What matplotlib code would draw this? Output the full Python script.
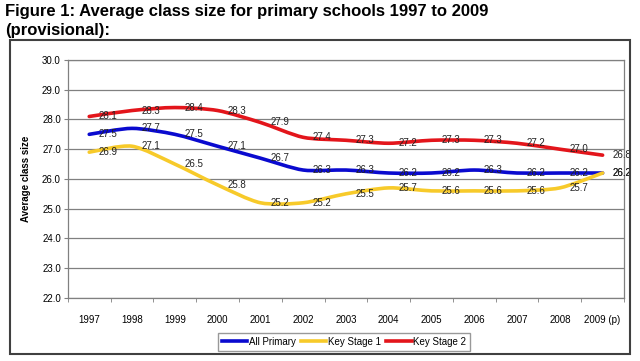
import numpy as np
import matplotlib
matplotlib.use("Agg")
import matplotlib.pyplot as plt
from matplotlib.path import Path
from matplotlib.patches import PathPatch, Rectangle
from matplotlib.lines import Line2D

plt.rcParams['font.family'] = ['Liberation Sans', 'DejaVu Sans']

years = ['1997', '1998', '1999', '2000', '2001', '2002', '2003',
         '2004', '2005', '2006', '2007', '2008', '2009 (p)']
all_primary = [27.5, 27.7, 27.5, 27.1, 26.7, 26.3, 26.3, 26.2, 26.2, 26.3, 26.2, 26.2, 26.2]
key_stage1 = [26.9, 27.1, 26.5, 25.8, 25.2, 25.2, 25.5, 25.7, 25.6, 25.6, 25.6, 25.7, 26.2]
key_stage2 = [28.1, 28.3, 28.4, 28.3, 27.9, 27.4, 27.3, 27.2, 27.3, 27.3, 27.2, 27.0, 26.8]

series = [('All Primary', all_primary, '#0A0ACF'),
          ('Key Stage 1', key_stage1, '#F7CA2A'),
          ('Key Stage 2', key_stage2, '#E3151B')]


def smooth_path(x, y, t=0.13):
    # excel-ish smoothed line: bezier through the points
    verts = [(x[0], y[0])]
    codes = [Path.MOVETO]
    n = len(x)
    for i in range(n - 1):
        x0, y0 = (x[i-1], y[i-1]) if i > 0 else (x[i], y[i])
        x3, y3 = (x[i+2], y[i+2]) if i < n - 2 else (x[i+1], y[i+1])
        c1 = (x[i] + (x[i+1] - x0) * t, y[i] + (y[i+1] - y0) * t)
        c2 = (x[i+1] - (x3 - x[i]) * t, y[i+1] - (y3 - y[i]) * t)
        verts += [c1, c2, (x[i+1], y[i+1])]
        codes += [Path.CURVE4] * 3
    return Path(verts, codes)


fig = plt.figure(figsize=(6.4, 3.61), dpi=100)
ax = fig.add_axes([0.106, 0.1745, 0.869, 0.6595])

# chart frame
fig.patches.append(Rectangle((10/640., 1 - 354/361.), 620/640., 314/361.,
                             transform=fig.transFigure, fill=False,
                             edgecolor='#404040', linewidth=1.5))

fig.text(0.008, 0.988, 'Figure 1: Average class size for primary schools 1997 to 2009\n(provisional):',
         va='top', ha='left', fontsize=12, fontweight='bold', linespacing=1.3)

x = np.arange(len(years))
for name, vals, col in series:
    ax.add_patch(PathPatch(smooth_path(x, vals), fill=False, edgecolor=col,
                           linewidth=2.6, capstyle='round', zorder=3))
    for xi, v in zip(x, vals):
        ax.annotate('%.1f' % v, (xi, v), xytext=(7, 0), textcoords='offset points',
                    va='center', ha='left', fontsize=7, color='#222222', zorder=4)

ax.set_xlim(-0.5, len(years) - 0.5)
ax.set_ylim(22, 30)
ax.set_yticks(np.arange(22, 30.1, 1))
ax.set_yticklabels(['%.1f' % v for v in np.arange(22, 30.1, 1)], fontsize=7)
ax.set_xticks(x)
ax.set_xticklabels(years, fontsize=7)
ax.set_xticks(np.arange(-0.5, len(years), 1), minor=True)
ax.tick_params(axis='x', which='major', length=0, pad=12)
ax.tick_params(axis='x', which='minor', length=3, color='#808080')
ax.tick_params(axis='y', length=3, color='#808080', pad=2)
ax.grid(axis='y', color='#808080', linewidth=0.9)
ax.set_axisbelow(True)
for s in ax.spines.values():
    s.set_color('#808080')
    s.set_linewidth(0.9)
ax.set_ylabel('Average class size', fontsize=7, fontweight='bold', labelpad=8)

handles = [Line2D([], [], color=c, linewidth=2.6) for _, _, c in series]
fig.legend(handles, [n for n, _, _ in series], loc='center', bbox_to_anchor=(0.538, 0.053),
           ncol=3, fontsize=7, frameon=True, fancybox=False, edgecolor='#808080',
           handlelength=2.6, handletextpad=0.2, columnspacing=0.5, borderpad=0.4)

fig.savefig('out.png', dpi=100)
